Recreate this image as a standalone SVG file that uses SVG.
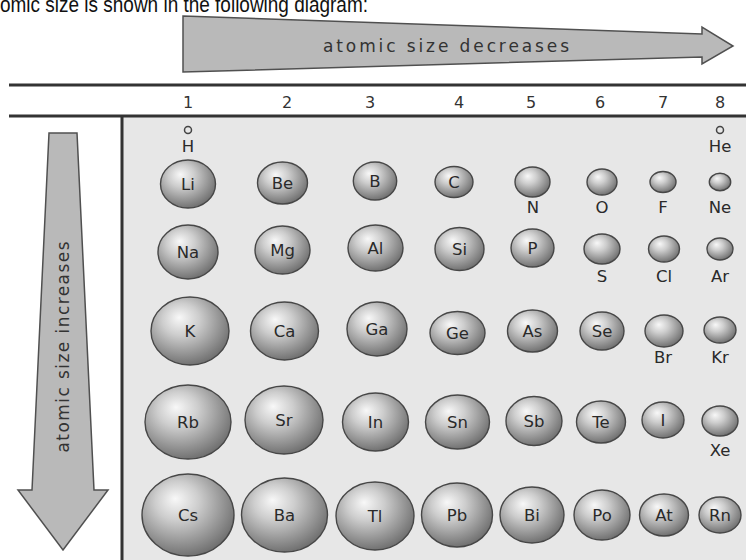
<svg xmlns="http://www.w3.org/2000/svg" width="746" height="560" viewBox="0 0 746 560">
<style>
.top{font-family:"Liberation Sans",Arial,sans-serif;font-size:22px;fill:#111}
.lab{font-family:"DejaVu Sans",sans-serif;font-size:17px;fill:#333}
.num{font-family:"DejaVu Sans",sans-serif;font-size:16px;fill:#333;text-anchor:middle}
.el{font-family:"DejaVu Sans",sans-serif;font-size:16.5px;fill:#2a2a2a;text-anchor:middle}
.sph{fill:url(#sg);stroke:#474747;stroke-width:1.4}
.ring{fill:none;stroke:#444;stroke-width:1.5}
.arrow{fill:#b9b9b9;stroke:#505050;stroke-width:1.5;stroke-linejoin:miter}
.rule{stroke:#333;stroke-width:3}
</style>
<defs>
<radialGradient id="sg" cx="0.42" cy="0.38" r="0.68" fx="0.36" fy="0.3">
<stop offset="0" stop-color="#f8f8f8"/>
<stop offset="0.35" stop-color="#cdcdcd"/>
<stop offset="0.8" stop-color="#868686"/>
<stop offset="1" stop-color="#666"/>
</radialGradient>
</defs>
<rect width="746" height="560" fill="#fff"/>
<text class="top" x="0" y="12" textLength="368" lengthAdjust="spacingAndGlyphs">omic size is shown in the following diagram:</text>

<rect x="122" y="117" width="624" height="443" fill="#e7e7e7"/>

<g id="arrow-across">
<polygon class="arrow" points="183,16 702,34 702,27 733,46 702,64 702,57 183,72"/>
<text class="lab" x="446" y="52" text-anchor="middle" textLength="246" lengthAdjust="spacing">atomic size decreases</text>
</g>
<g id="arrow-down">
<polygon class="arrow" points="49,133 77,133 94,490 108,490 63,550 18,490 32,490"/>
<text class="lab" transform="translate(69,347) rotate(-90)" x="0" y="0" text-anchor="middle" textLength="211" lengthAdjust="spacing">atomic size increases</text>
</g>

<g id="header">
<line class="rule" x1="9" y1="85" x2="746" y2="85"/>
<line class="rule" x1="9" y1="116" x2="746" y2="116"/>
<line class="rule" x1="122" y1="116" x2="122" y2="560"/>
<text class="num" x="188" y="108">1</text>
<text class="num" x="287" y="108">2</text>
<text class="num" x="370" y="108">3</text>
<text class="num" x="459" y="108">4</text>
<text class="num" x="531" y="108">5</text>
<text class="num" x="600" y="108">6</text>
<text class="num" x="663" y="108">7</text>
<text class="num" x="720" y="108">8</text>
</g>

<g id="H"><circle class="ring" cx="188" cy="130" r="3.5"/><text class="el" x="188" y="152">H</text></g>
<g id="He"><circle class="ring" cx="720" cy="130" r="3.5"/><text class="el" x="720" y="152">He</text></g>

<g id="Li"><ellipse class="sph" cx="188" cy="184" rx="27.5" ry="24"/><text class="el" x="188" y="190">Li</text></g>
<g id="Be"><ellipse class="sph" cx="282.5" cy="183" rx="25" ry="21"/><text class="el" x="282.5" y="189">Be</text></g>
<g id="B"><ellipse class="sph" cx="375" cy="181" rx="21.7" ry="19"/><text class="el" x="375" y="187">B</text></g>
<g id="C"><ellipse class="sph" cx="454" cy="182" rx="19" ry="15.5"/><text class="el" x="454" y="188">C</text></g>
<g id="N"><ellipse class="sph" cx="532.5" cy="182" rx="17.5" ry="15"/><text class="el" x="533" y="213">N</text></g>
<g id="O"><ellipse class="sph" cx="602" cy="182" rx="15" ry="13"/><text class="el" x="602" y="213">O</text></g>
<g id="F"><ellipse class="sph" cx="663" cy="182" rx="13" ry="10.5"/><text class="el" x="663" y="213">F</text></g>
<g id="Ne"><ellipse class="sph" cx="720" cy="182" rx="10.7" ry="8.7"/><text class="el" x="720" y="213">Ne</text></g>

<g id="Na"><ellipse class="sph" cx="188" cy="252" rx="30" ry="27"/><text class="el" x="188" y="258">Na</text></g>
<g id="Mg"><ellipse class="sph" cx="282.5" cy="250" rx="27.5" ry="24"/><text class="el" x="282.5" y="256">Mg</text></g>
<g id="Al"><ellipse class="sph" cx="375.5" cy="248" rx="27.5" ry="23"/><text class="el" x="375.5" y="254">Al</text></g>
<g id="Si"><ellipse class="sph" cx="459.5" cy="249" rx="24.5" ry="21.5"/><text class="el" x="459.5" y="255">Si</text></g>
<g id="P"><ellipse class="sph" cx="532.5" cy="248" rx="21.5" ry="19"/><text class="el" x="532.5" y="254">P</text></g>
<g id="S"><ellipse class="sph" cx="602" cy="249" rx="18" ry="15"/><text class="el" x="602" y="282">S</text></g>
<g id="Cl"><ellipse class="sph" cx="664" cy="249" rx="15.5" ry="13"/><text class="el" x="664" y="282">Cl</text></g>
<g id="Ar"><ellipse class="sph" cx="720" cy="249" rx="13" ry="11"/><text class="el" x="720" y="282">Ar</text></g>

<g id="K"><ellipse class="sph" cx="190" cy="331" rx="39" ry="34"/><text class="el" x="190" y="337">K</text></g>
<g id="Ca"><ellipse class="sph" cx="284.5" cy="331" rx="34" ry="29"/><text class="el" x="284.5" y="337">Ca</text></g>
<g id="Ga"><ellipse class="sph" cx="377" cy="329" rx="30" ry="27"/><text class="el" x="377" y="335">Ga</text></g>
<g id="Ge"><ellipse class="sph" cx="457.5" cy="333" rx="27.5" ry="21.5"/><text class="el" x="457.5" y="339">Ge</text></g>
<g id="As"><ellipse class="sph" cx="532.5" cy="331" rx="25" ry="21"/><text class="el" x="532.5" y="337">As</text></g>
<g id="Se"><ellipse class="sph" cx="602" cy="331" rx="22" ry="19"/><text class="el" x="602" y="337">Se</text></g>
<g id="Br"><ellipse class="sph" cx="664" cy="331" rx="19" ry="16"/><text class="el" x="663" y="363">Br</text></g>
<g id="Kr"><ellipse class="sph" cx="720" cy="330" rx="16" ry="13"/><text class="el" x="720" y="363">Kr</text></g>

<g id="Rb"><ellipse class="sph" cx="188" cy="422" rx="43" ry="37"/><text class="el" x="188" y="428">Rb</text></g>
<g id="Sr"><ellipse class="sph" cx="284" cy="420" rx="39" ry="34"/><text class="el" x="284" y="426">Sr</text></g>
<g id="In"><ellipse class="sph" cx="375.5" cy="422" rx="33" ry="29"/><text class="el" x="375.5" y="428">In</text></g>
<g id="Sn"><ellipse class="sph" cx="457.5" cy="422" rx="32" ry="27"/><text class="el" x="457.5" y="428">Sn</text></g>
<g id="Sb"><ellipse class="sph" cx="534" cy="421" rx="28" ry="24.5"/><text class="el" x="534" y="427">Sb</text></g>
<g id="Te"><ellipse class="sph" cx="601" cy="422" rx="24.5" ry="21"/><text class="el" x="601" y="428">Te</text></g>
<g id="I"><ellipse class="sph" cx="663" cy="420" rx="21" ry="18"/><text class="el" x="663" y="426">I</text></g>
<g id="Xe"><ellipse class="sph" cx="720" cy="421" rx="18" ry="15"/><text class="el" x="720" y="456">Xe</text></g>

<g id="Cs"><ellipse class="sph" cx="188" cy="515" rx="46" ry="41"/><text class="el" x="188" y="521">Cs</text></g>
<g id="Ba"><ellipse class="sph" cx="284.5" cy="515" rx="43" ry="37"/><text class="el" x="284.5" y="521">Ba</text></g>
<g id="Tl"><ellipse class="sph" cx="375" cy="516" rx="39" ry="34"/><text class="el" x="375" y="522">Tl</text></g>
<g id="Pb"><ellipse class="sph" cx="457" cy="515" rx="35.5" ry="32"/><text class="el" x="457" y="521">Pb</text></g>
<g id="Bi"><ellipse class="sph" cx="532" cy="515" rx="32" ry="28"/><text class="el" x="532" y="521">Bi</text></g>
<g id="Po"><ellipse class="sph" cx="602" cy="515" rx="28" ry="25"/><text class="el" x="602" y="521">Po</text></g>
<g id="At"><ellipse class="sph" cx="664" cy="515" rx="24.5" ry="21"/><text class="el" x="664" y="521">At</text></g>
<g id="Rn"><ellipse class="sph" cx="720" cy="515" rx="21" ry="18"/><text class="el" x="720" y="521">Rn</text></g>

<g id="connectors"></g>
</svg>
